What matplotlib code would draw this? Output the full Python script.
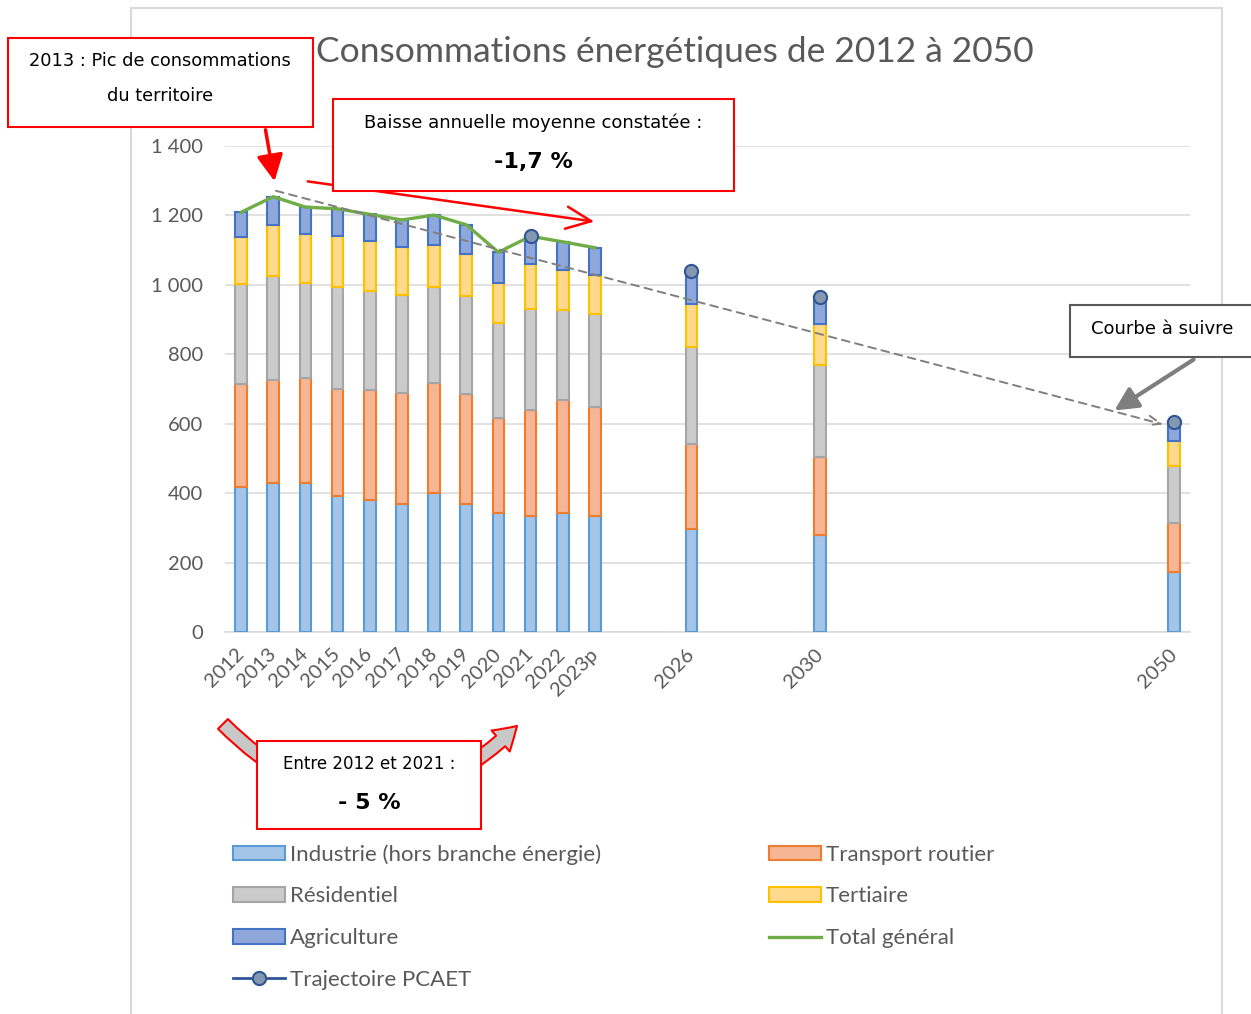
import numpy as np
import matplotlib
matplotlib.use("Agg")
import matplotlib.pyplot as plt
from matplotlib.patches import Rectangle, FancyArrowPatch, Patch
from matplotlib.lines import Line2D

# category labels and their slot on the category axis (blank slots in between)
labels = ['2012', '2013', '2014', '2015', '2016', '2017', '2018', '2019',
          '2020', '2021', '2022', '2023p', '2026', '2030', '2050']
slots = [0, 1, 2, 3, 4, 5, 6, 7, 8, 9, 10, 11, 14, 18, 29]

industrie = [419, 430, 430, 392, 379, 370, 399, 368, 342, 334, 342, 334, 297, 280, 174]
transport = [295, 296, 301, 308, 319, 318, 318, 319, 275, 306, 325, 313, 245, 225, 139]
residentiel = [289, 300, 274, 295, 285, 283, 276, 281, 274, 291, 261, 269, 278, 264, 165]
tertiaire = [134, 147, 141, 146, 142, 137, 121, 122, 115, 128, 115, 112, 124, 118, 73]
agriculture = [72, 81, 78, 78, 78, 79, 87, 83, 88, 80, 81, 79, 91, 79, 53]

# total général only for observed years (2012 - 2023p)
total_general = [1209, 1254, 1224, 1219, 1203, 1187, 1201, 1173, 1094, 1140, 1124, 1107]

# trajectoire PCAET points
pcaet_labels = ['2021', '2026', '2030', '2050']
pcaet_values = [1140, 1040, 966, 604]

W, H = 1251, 1014
fig = plt.figure(figsize=(W / 100, H / 100), dpi=100)
chart_font = ['Lato', 'DejaVu Sans']
box_font = ['DejaVu Sans']
grey_txt = '#595959'


def px(x, y):
    # pixel position -> figure fraction
    return (x / W, 1 - y / H)


ax = fig.add_axes([225 / W, 1 - 632 / H, (1190 - 225) / W, (632 - 146) / H])

series = [
    ('Industrie (hors branche énergie)', industrie, '#a4c4e8', '#5b9bd5'),
    ('Transport routier', transport, '#f6b594', '#ed7d31'),
    ('Résidentiel', residentiel, '#cbcbcb', '#a5a5a5'),
    ('Tertiaire', tertiaire, '#ffd98c', '#ffc000'),
    ('Agriculture', agriculture, '#8fa8dc', '#4472c4'),
]

x = np.array(slots, dtype=float)
bottom = np.zeros(len(x))
handles = {}
for name, vals, fc, ec in series:
    ax.bar(x, vals, width=0.36, bottom=bottom, color=fc, edgecolor=ec,
           linewidth=1.5, zorder=3)
    bottom += np.array(vals)
    handles[name] = Patch(facecolor=fc, edgecolor=ec, linewidth=1.5, label=name)

ax.plot(x[:len(total_general)], total_general, color='#70ad47', lw=2.4, zorder=4)

pcaet_x = [slots[labels.index(l)] for l in pcaet_labels]
ax.plot(pcaet_x, pcaet_values, ls='none', marker='o', ms=9.5, mfc='#8497b0',
        mec='#2f5597', mew=1.5, zorder=5)

ax.set_xlim(-0.5, 29.5)
ax.set_ylim(0, 1400)
ax.set_yticks(range(0, 1401, 200))
ax.set_yticklabels([f"{v:,}".replace(',', ' ') for v in range(0, 1401, 200)])
ax.set_xticks(slots)
ax.set_xticklabels(labels, rotation=45, ha='right', va='center',
                   rotation_mode='anchor')
ax.tick_params(axis='y', length=0, pad=16, labelsize=14.5, labelcolor=grey_txt)
ax.tick_params(axis='x', length=0, pad=14, labelsize=14.5, labelcolor=grey_txt)
for lab in ax.get_xticklabels() + ax.get_yticklabels():
    lab.set_family(chart_font)
ax.grid(axis='y', color='#d9d9d9', lw=1.1, zorder=0)
ax.set_axisbelow(True)
for s in ['top', 'right', 'left']:
    ax.spines[s].set_visible(False)
ax.spines['bottom'].set_color('#d9d9d9')
ax.spines['bottom'].set_linewidth(1.1)

# dashed trend arrow
ax.annotate('', xy=(28.75, 596), xytext=(1.0, 1273),
            arrowprops=dict(arrowstyle='->,head_length=0.9,head_width=0.35',
                            color='#7f7f7f', lw=1.4, ls=(0, (4, 3))),
            zorder=6)

# chart border
fig.patches.append(Rectangle(px(131, 1020), (1222 - 131) / W, (1020 - 8) / H,
                             transform=fig.transFigure, fill=False,
                             ec='#d9d9d9', lw=1.5, zorder=0))

fig.text(*px(675, 52), 'Consommations énergétiques de 2012 à 2050',
         ha='center', va='center', fontsize=25.5, color=grey_txt, family=chart_font)

# legend
legend_handles = [handles['Industrie (hors branche énergie)'], handles['Résidentiel'],
                  handles['Agriculture'],
                  Line2D([], [], color='#2f5597', lw=2, marker='o', ms=9.5,
                         mfc='#8497b0', mec='#2f5597', mew=1.5,
                         label='Trajectoire PCAET'),
                  handles['Transport routier'], handles['Tertiaire'],
                  Line2D([], [], color='#70ad47', lw=2.4, label='Total général')]
leg = fig.legend(handles=legend_handles, loc='upper left', ncol=2,
                 bbox_to_anchor=px(233, 844), frameon=False, borderpad=0,
                 borderaxespad=0, handlelength=2.35, handleheight=0.62,
                 handletextpad=0.22, labelspacing=0.98, columnspacing=7.55,
                 prop={'family': chart_font, 'size': 16})
for t in leg.get_texts():
    t.set_color(grey_txt)


def box(x0, y0, x1, y1, ec='red', z=10):
    fig.patches.append(Rectangle(px(x0, y1), (x1 - x0) / W, (y1 - y0) / H,
                                 transform=fig.transFigure, fc='white',
                                 ec=ec, lw=1.5, zorder=z))


def arrow(p0, p1, **kw):
    fig.patches.append(FancyArrowPatch(px(*p0), px(*p1),
                                       transform=fig.transFigure, **kw))


# box 1 : pic 2013
box(8, 38, 313, 127)
fig.text(*px(160, 61), '2013 : Pic de consommations', ha='center', va='center',
         fontsize=12.8, family=box_font, zorder=11)
fig.text(*px(160, 96), 'du territoire', ha='center', va='center',
         fontsize=12.8, family=box_font, zorder=11)
arrow((265, 127), (275, 184), arrowstyle='-|>,head_length=0.8,head_width=0.4',
      color='red', lw=2.5, mutation_scale=20, zorder=9)

# box 2 : baisse annuelle
box(333, 99, 734, 191)
fig.text(*px(533, 123), 'Baisse annuelle moyenne constatée :', ha='center',
         va='center', fontsize=13, family=box_font, zorder=11)
fig.text(*px(533, 162), '-1,7 %', ha='center', va='center', fontsize=16,
         fontweight='bold', family=box_font, zorder=11)
arrow((305, 181), (597, 222), arrowstyle='->,head_length=0.9,head_width=0.4',
      color='red', lw=1.8, mutation_scale=20, zorder=9)

# box 3 : entre 2012 et 2021 with curved arrow underneath
arrow((221, 722), (519, 724),
      arrowstyle='simple,head_length=0.8,head_width=1.0,tail_width=0.5',
      connectionstyle='arc3,rad=0.5', fc='#c8c8c8', ec='red', lw=1.5,
      mutation_scale=20, zorder=9)
box(257, 741, 481, 829)
fig.text(*px(369, 764), 'Entre 2012 et 2021 :', ha='center', va='center',
         fontsize=12, family=box_font, zorder=11)
fig.text(*px(369, 803), '- 5 %', ha='center', va='center', fontsize=16,
         fontweight='bold', family=box_font, zorder=11)

# box 4 : courbe à suivre
box(1070, 305, 1262, 357, ec='#595959')
fig.text(*px(1162, 329), 'Courbe à suivre', ha='center', va='center',
         fontsize=13, family=box_font, zorder=11)
arrow((1196, 358), (1112, 412), arrowstyle='-|>,head_length=0.7,head_width=0.35',
      color='#7f7f7f', lw=3, mutation_scale=20, zorder=9)

fig.savefig('out.png', dpi=100)
